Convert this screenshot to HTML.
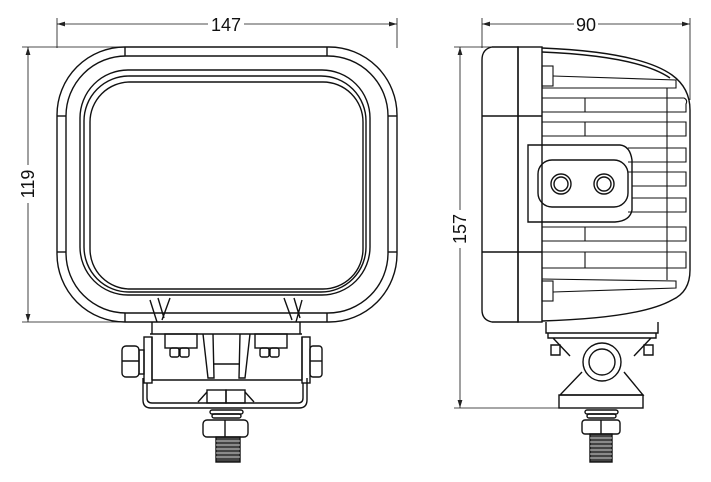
<!DOCTYPE html>
<html><head><meta charset="utf-8"><style>
html,body{margin:0;padding:0;background:#fff;}
svg{display:block;}
text{font-family:"Liberation Sans",sans-serif;font-size:18px;fill:#111;}
</style></head><body>
<svg width="711" height="482" viewBox="0 0 711 482" xmlns="http://www.w3.org/2000/svg" fill="none" stroke="#111" stroke-width="1.4">
<defs>
<marker id="a" viewBox="0 0 10 6" refX="10" refY="3" markerWidth="10" markerHeight="6" orient="auto-start-reverse"><path d="M0,0L10,3L0,6z" fill="#222" stroke="none"/></marker>
</defs>
<line x1="57" y1="18" x2="57" y2="48" stroke-width="0.8"/>
<line x1="397" y1="18" x2="397" y2="48" stroke-width="0.8"/>
<line x1="57" y1="24" x2="208" y2="24" stroke-width="0.8" marker-start="url(#a)"/>
<line x1="244" y1="24" x2="397" y2="24" stroke-width="0.8" marker-end="url(#a)"/>
<text x="226" y="31" text-anchor="middle" stroke="none">147</text>
<line x1="22" y1="47" x2="125" y2="47" stroke-width="0.8"/>
<line x1="22" y1="322" x2="125" y2="322" stroke-width="0.8"/>
<line x1="28" y1="47" x2="28" y2="165" stroke-width="0.8" marker-start="url(#a)"/>
<line x1="28" y1="203" x2="28" y2="322" stroke-width="0.8" marker-end="url(#a)"/>
<text x="0" y="0" transform="translate(34,184) rotate(-90)" text-anchor="middle" stroke="none">119</text>
<rect x="57" y="47" width="340" height="275" rx="68"/>
<rect x="66" y="56" width="322" height="257" rx="60"/>
<rect x="80" y="70" width="290" height="225" rx="48"/>
<rect x="84" y="76" width="282" height="216" rx="45"/>
<rect x="90" y="82" width="273" height="207" rx="40"/>
<line x1="125" y1="47" x2="125" y2="56"/><line x1="327" y1="47" x2="327" y2="56"/>
<line x1="57" y1="116" x2="66" y2="116"/><line x1="388" y1="116" x2="397" y2="116"/>
<line x1="57" y1="252" x2="66" y2="252"/><line x1="388" y1="252" x2="397" y2="252"/>
<line x1="125" y1="313" x2="125" y2="322"/><line x1="327" y1="313" x2="327" y2="322"/>
<path d="M150,300 L157,322 M158,298 L164,318 M170,298 L162,320 M284,298 L292,320 M294,298 L300,318 M302,300 L296,322"/>
<line x1="152" y1="322" x2="152" y2="334"/><line x1="300" y1="322" x2="300" y2="334"/>
<line x1="150" y1="334" x2="302" y2="334"/>
<rect x="144" y="337" width="8" height="46"/><rect x="302" y="337" width="8" height="46"/>
<path d="M152,337 V380 M302,337 V380 M152,380 H302"/>
<rect x="165" y="334" width="32" height="14"/><rect x="255" y="334" width="32" height="14"/>
<rect x="170" y="348" width="9" height="9" rx="2"/><rect x="180" y="348" width="9" height="9" rx="2"/>
<rect x="260" y="348" width="9" height="9" rx="2"/><rect x="270" y="348" width="9" height="9" rx="2"/>
<path d="M203,334 L208,378 H214 L213,334 M240,334 L239,378 H245 L250,334 M213,364 H239"/>
<path d="M143,378 V400 Q143,408 151,408 H299 Q307,408 307,400 V378"/>
<path d="M147,383 V398 Q147,403 152,403 H298 Q303,403 303,398 V383"/>
<path d="M198,402 L207,392 M254,402 L245,392"/>
<rect x="207" y="390" width="19" height="13"/><rect x="226" y="390" width="19" height="13"/>
<rect x="122" y="346" width="17" height="31" rx="4"/><line x1="122" y1="361" x2="139" y2="361"/>
<rect x="139" y="350" width="5" height="24"/>
<rect x="310" y="346" width="12" height="31" rx="3"/><line x1="310" y1="361" x2="322" y2="361"/>
<rect x="210" y="410" width="33" height="4" rx="2"/><rect x="212" y="414" width="29" height="4" rx="2"/>
<rect x="203" y="420" width="45" height="17" rx="4"/><line x1="225" y1="420" x2="225" y2="437"/>
<rect x="216" y="437" width="24" height="25" fill="#444"/>
<g stroke="#fff" stroke-width="0.8"><path d="M216,441H240M216,445H240M216,449H240M216,453H240M216,457H240"/></g>
<line x1="482" y1="18" x2="482" y2="48" stroke-width="0.8"/>
<line x1="690" y1="18" x2="690" y2="100" stroke-width="0.8"/>
<line x1="482" y1="24" x2="574" y2="24" stroke-width="0.8" marker-start="url(#a)"/>
<line x1="598" y1="24" x2="690" y2="24" stroke-width="0.8" marker-end="url(#a)"/>
<text x="586" y="31" text-anchor="middle" stroke="none">90</text>
<line x1="454" y1="47" x2="520" y2="47" stroke-width="0.8"/>
<line x1="454" y1="408" x2="560" y2="408" stroke-width="0.8"/>
<line x1="460" y1="47" x2="460" y2="210" stroke-width="0.8" marker-start="url(#a)"/>
<line x1="460" y1="248" x2="460" y2="408" stroke-width="0.8" marker-end="url(#a)"/>
<text x="0" y="0" transform="translate(466,229) rotate(-90)" text-anchor="middle" stroke="none">157</text>
<path d="M518,47 H492 Q482,49 482,60 V310 Q482,320 492,322 H518 Z"/>
<rect x="518" y="47" width="24" height="275"/>
<line x1="482" y1="116" x2="542" y2="116"/><line x1="482" y1="252" x2="542" y2="252"/>
<path d="M542,48 Q640,52 672,75 Q690,88 690,110 V270 Q690,292 672,300 Q640,318 542,321"/>
<path d="M542,52 Q638,56 670,78"/>
<g stroke-width="1.1">
<rect x="542" y="66" width="11" height="20"/><rect x="542" y="281" width="11" height="20"/>
<path d="M553,76 L676,80 V88 L542,88"/>
<path d="M542,98 H684 Q688,100 686,104 V112 H542 M585,98 V112"/>
<path d="M542,122 H686 V136 H542 M585,122 V136"/>
<path d="M628,148 H686 V162 H628 M628,172 H686 V186 H632 M632,198 H686 V212 H628"/>
<path d="M542,227 H686 V241 H542 M585,227 V241"/>
<path d="M542,252 H686 V268 H542 M585,252 V268"/>
<path d="M542,279 L676,281 V288 L553,292"/>
<line x1="667" y1="88" x2="667" y2="280"/>
</g>
<path d="M528,145 H620 Q630,146 632,160 V210 Q630,221 615,222 H528 Z"/>
<rect x="538" y="160" width="90" height="47" rx="14"/>
<circle cx="561" cy="184" r="10"/><circle cx="561" cy="184" r="7"/>
<circle cx="604" cy="184" r="10"/><circle cx="604" cy="184" r="7"/>
<path d="M546,322 V333 H658 V322 M548,333 V338 H656 V333 M553,338 L570,356 M651,338 L634,356"/>
<path d="M551,345 H560 V355 H551 Z M644,345 H653 V355 H644 Z"/>
<path d="M582,372 L560,395 H643 L624,372"/>
<circle cx="602" cy="362" r="19"/><circle cx="602" cy="362" r="13"/>
<rect x="559" y="395" width="84" height="13"/>
<rect x="585" y="410" width="33" height="4" rx="2"/><rect x="587" y="414" width="29" height="4" rx="2"/>
<rect x="582" y="420" width="38" height="14" rx="3"/><line x1="601" y1="420" x2="601" y2="434"/>
<rect x="590" y="434" width="22" height="28" fill="#444"/>
<g stroke="#fff" stroke-width="0.8"><path d="M590,438H612M590,442H612M590,446H612M590,450H612M590,454H612M590,458H612"/></g>
</svg>
</body></html>
